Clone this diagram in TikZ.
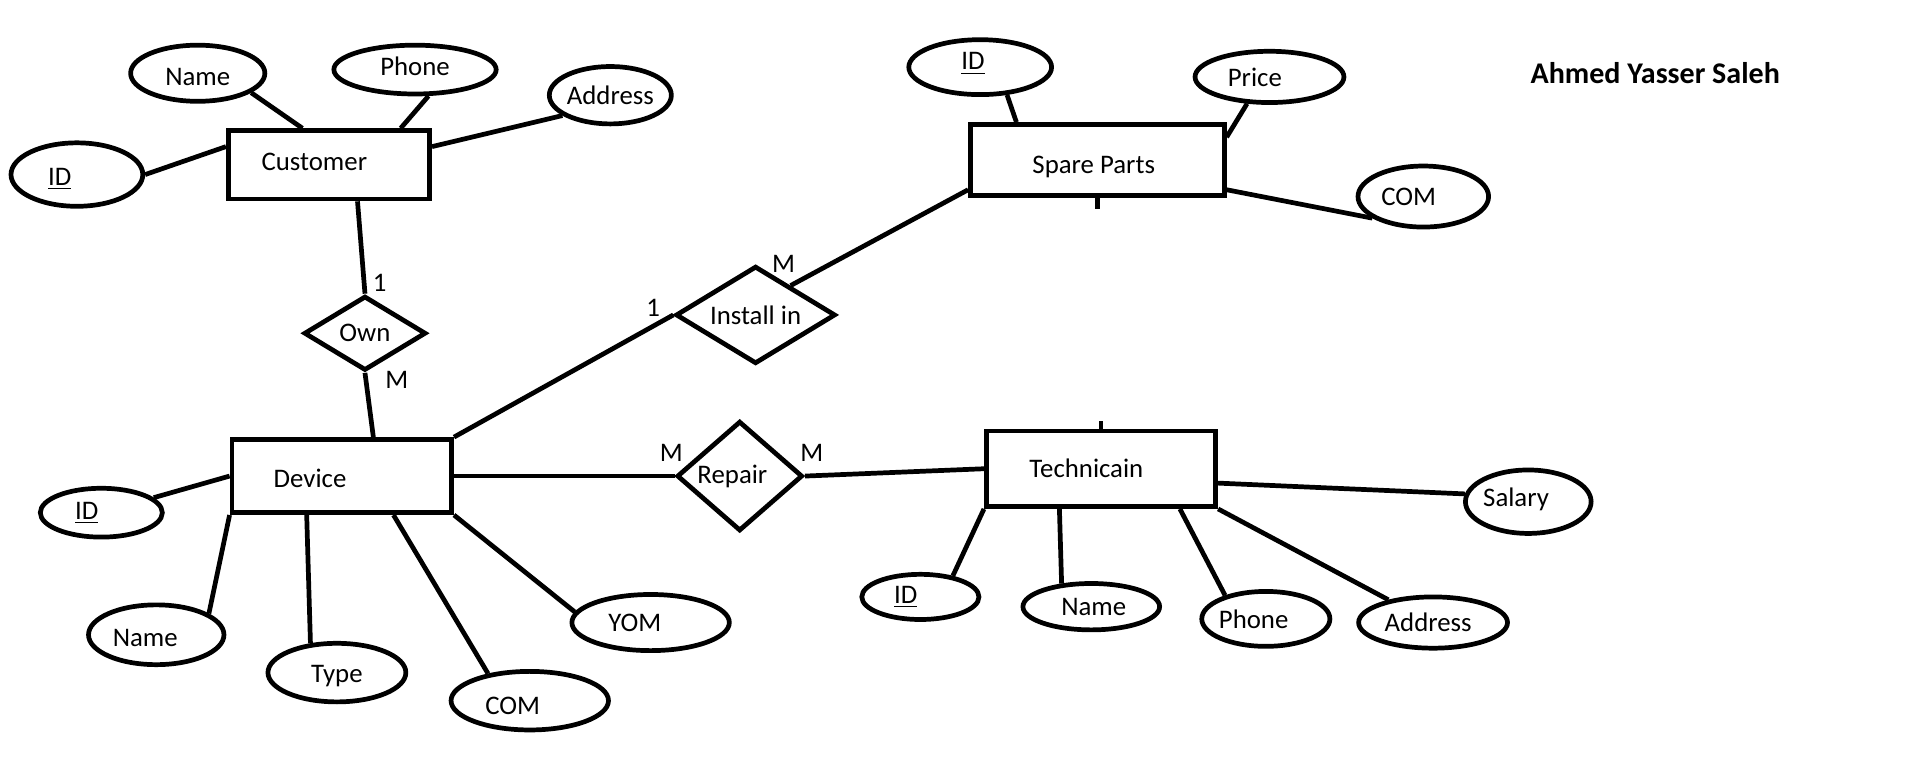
\documentclass[tikz,border=0pt]{standalone}
\usepackage{fontspec}
\setmainfont{Carlito}
\usetikzlibrary{shapes.geometric,positioning}

\begin{document}
\begin{tikzpicture}[x=0.02cm, y=-0.02cm, line width=2.2pt,
  every node/.style={font=\fontsize{12.5}{15}\selectfont},
  every label/.style={inner sep=0pt},
  ent/.style={draw, rectangle, inner sep=0pt},
  attr/.style={draw, ellipse, inner sep=0pt},
  rel/.style={draw, diamond, inner sep=0pt},
  card/.style={inner sep=0pt}]
\useasboundingbox (0,0) rectangle (1568,633);
\node[ent, minimum width=3.3cm, minimum height=1.12cm, label={[shift={(-12,-2)}]center:Customer}] (cust) at (269.5,135) {};
\node[ent, minimum width=3.6cm, minimum height=1.2cm, label={[shift={(-26,2)}]center:Device}] (dev) at (280,390) {};
\node[ent, minimum width=4.16cm, minimum height=1.16cm, label={[shift={(-3,6)}]center:Spare Parts}] (sp) at (899,131) {};
\node[ent, minimum width=3.76cm, minimum height=1.24cm, label={[shift={(-12,0)}]center:Technicain}] (tech) at (902,384) {};
\node[rel, aspect=1.64, minimum width=2cm, minimum height=1.22cm] (own) at (299,273) {Own};
\node[rel, aspect=1.64, minimum width=2.62cm, minimum height=1.6cm] (inst) at (619,258) {Install in};
\node[rel, aspect=1.14, minimum width=2.06cm, minimum height=1.8cm, label={[shift={(-6,0)}]center:Repair}] (rep) at (606,390) {};
\foreach \n/\x/\y/\w/\h/\dx/\dy/\t in {cname/162/60/2.2/0.92/0/3/Name, cphone/340/57/2.66/0.8/0/-3/Phone,
    caddr/500/78/2.0/0.94/0/0/Address, cid/63/143/2.16/1.04/-14/4/\underline{ID},
    did/83/420/2.0/0.8/-12/0/\underline{ID}, dname/128/520/2.22/0.98/-9/3/Name, dtype/276/551/2.26/0.96/0/3/Type,
    dcom/434/574/2.58/0.96/-14/4/COM, dyom/533/510/2.58/0.92/-13/0/YOM,
    spid/803/55/2.34/0.9/-6/-3/\underline{ID}, spprice/1040/63/2.44/0.84/-12/0/Price, spcom/1166/161/2.14/1.0/-12/0/COM,
    tsal/1252/411/2.06/1.04/-10/-2/Salary, tid/754/489/1.92/0.74/-12/0/\underline{ID}, tname/894/497/2.24/0.76/2/0/Name,
    tphone/1037/507/2.1/0.9/-10/0/Phone, taddr/1174/510/2.44/0.84/-4/0/Address} {
  \node[attr, minimum width=\w cm, minimum height=\h cm, label={[shift={(\dx,\dy)}]center:\t}] (\n) at (\x,\y) {};
}
\foreach \a/\b in {cname.-20/cust.126, cphone.-63/cust.27, caddr.-157/cust.10, cid.0/cust.170,
    did.16/dev.180, dname.22/dev.south west, dtype.132/dev.-132, dcom.147/dev.-37, dyom.172/dev.south east,
    spid.-46/sp.155, spprice.-130/sp.10, spcom.-157/sp.-13,
    tsal.173/tech.-7, tid.33/tech.south west, tname.142/tech.-136, tphone.150/tech.-27, taddr.153/tech.south east,
    cust.-52/own.north, own.south/dev.51, dev.north east/inst.west, inst.40/sp.-167,
    dev.east/rep.west, rep.east/tech.west} {
  \draw (\a) -- (\b);
}
\draw (sp.south) -- ++(0,9);
\draw (tech.north) -- ++(0,-6);
\node[card] (own1) at (311,232) {1};
\node[card] (ownm) at (325,311) {M};
\node[card] (inst1) at (535,252) {1};
\node[card] (instm) at (642,216) {M};
\node[card] (repm1) at (550,371) {M};
\node[card] (repm2) at (665,371) {M};
\node[font=\fontsize{14}{17}\selectfont\bfseries] (author) at (1356,60) {Ahmed Yasser Saleh};
\end{tikzpicture}
\end{document}
